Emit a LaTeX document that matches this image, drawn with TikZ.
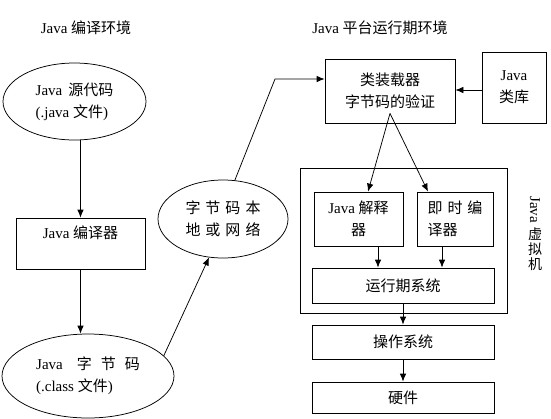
\documentclass[tikz,border=0pt]{standalone}
\usepackage{fontspec}
\setmainfont{Liberation Serif}
\newfontfamily\cjk{Noto Sans CJK SC}
\newcommand\zh[1]{{\cjk #1}}
\usetikzlibrary{arrows.meta,shapes.geometric}
\begin{document}
\begin{tikzpicture}[x=1pt,y=1pt,
  font=\fontsize{15}{22}\selectfont,
  line width=0.75pt,
  box/.style={draw, inner sep=0pt, align=center},
  oval/.style={draw, ellipse, inner sep=0pt, align=left},
  arr/.style={-{Latex[length=8pt,width=6.5pt]}}]
\useasboundingbox (0,0) rectangle (551,-418);

% titles
\node (t1) at (86,-28) {Java \zh{编译环境}};
\node (t2) at (380,-28) {Java \zh{平台运行期环境}};

% left column
\node[oval, minimum width=143, minimum height=77] (src) at (74.5,-101.5)
  {Java\hspace{6pt}\zh{源代码}\\(.java \zh{文件})};
\node[box, minimum width=129, minimum height=51] (comp) at (80.5,-243.5)
  {Java \zh{编译器}\\\mbox{}};
\node[oval, minimum width=172, minimum height=84] (cls) at (88,-376)
  {Java\hspace{14pt}\zh{字\hspace{9pt}节\hspace{9pt}码}\\(.class \zh{文件})};
\node[oval, align=center, minimum width=130, minimum height=78] (net) at (223,-219)
  {\zh{字\hspace{5pt}节\hspace{5pt}码\hspace{5pt}本}\\\zh{地\hspace{5pt}或\hspace{5pt}网\hspace{5pt}络}};

% right column
\node[box, minimum width=130, minimum height=64] (cl) at (390,-91)
  {\zh{类装载器}\\\zh{字节码的验证}};
\node[box, minimum width=64, minimum height=71] (lib) at (514,-87.5)
  {Java\\\zh{类库}};
\node[box, minimum width=207, minimum height=145] (jvm) at (403.5,-240.5) {};
\node[box, minimum width=89, minimum height=54] (interp) at (358.5,-219)
  {Java \zh{解释}\\\zh{器}};
\node[box, align=left, minimum width=76, minimum height=54] (jit) at (455,-219)
  {\zh{即\hspace{5pt}时\hspace{5pt}编}\\\zh{译器}};
\node[box, minimum width=182, minimum height=35] (rt) at (403,-285.5) {\zh{运行期系统}};
\node[box, minimum width=182, minimum height=34] (os) at (403,-342) {\zh{操作系统}};
\node[box, minimum width=182, minimum height=31] (hw) at (403,-397.5) {\zh{硬件}};

% vertical label
\node[rotate=-90, inner sep=0pt] (vm1) at (535,-209.5) {Java};
\node[inner sep=0pt, align=center, font=\fontsize{14}{15}\selectfont] (vm2) at (535,-249)
  {\zh{虚}\\\zh{拟}\\\zh{机}};

% connectors
\coordinate (bend) at (275,-79);
\draw[arr] (src.south -| comp.north) -- (comp.north);
\draw[arr] (comp.south) -- (comp.south |- cls.north);
\draw[arr] (cls.15) -- (net.250);
\draw[arr] (net.73) -- (bend) -- (bend -| cl.west);
\draw[arr] ([yshift=-2.5pt]lib.west) -- ([yshift=-2.5pt]lib.west -| cl.east);
\coordinate (apex) at ([yshift=10pt]cl.south);
\draw[arr] (apex) -- ([xshift=9.5pt]interp.north);
\draw[arr] (apex) -- ([xshift=-27pt]jit.north);
\draw[arr] ([xshift=19.5pt]interp.south) -- ([xshift=19.5pt]interp.south |- rt.north);
\draw[arr] ([xshift=-13pt]jit.south) -- ([xshift=-13pt]jit.south |- rt.north);
\draw[arr] (rt.south) -- (os.north);
\draw[arr] (os.south) -- (hw.north);
\end{tikzpicture}
\end{document}
